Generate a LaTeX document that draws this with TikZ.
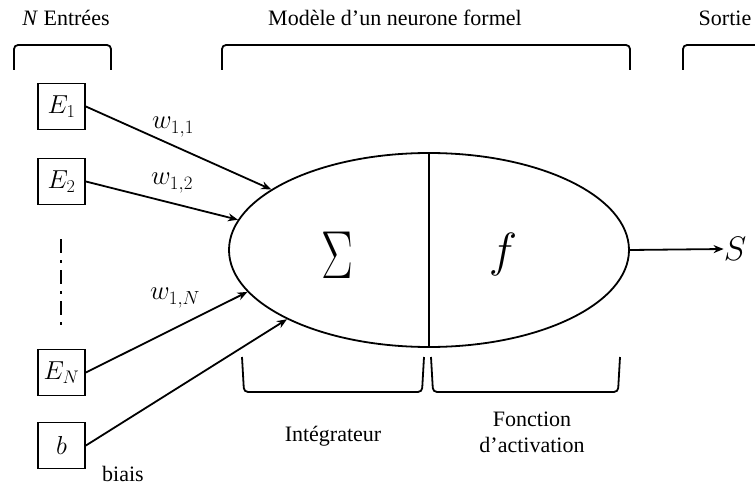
\documentclass[tikz,border=0pt]{standalone}
\usepackage{fix-cm}
\usepackage{fontspec}
\setmainfont{Liberation Serif}
\usetikzlibrary{arrows.meta,shapes.geometric}
\tikzset{
  inbox/.style={draw,line width=1.8pt,minimum width=47pt,minimum height=46pt,inner sep=0pt,font=\fontsize{26}{30}\selectfont},
  conn/.style={line width=1.8pt,-{Stealth[length=10pt,width=8pt]}},
  bracket/.style={line width=1.8pt,rounded corners=4pt},
  lbl/.style={font=\fontsize{22}{26}\selectfont,inner sep=0pt},
  mathlbl/.style={font=\fontsize{27}{30}\selectfont,inner sep=0pt}
}
\begin{document}
\begin{tikzpicture}[x=1pt,y=-1pt]
\clip (0,0) rectangle (755,487);
\fill[white] (0,0) rectangle (755,487);
% top titles
\node[lbl,anchor=base] (tin) at (66,26) {\textit{N} Entrées};
\node[lbl,anchor=base] (tmod) at (395,26) {Modèle d’un neurone formel};
\node[lbl,anchor=base] (tout) at (725,26) {Sortie};
% top brackets
\draw[bracket] (14,70) -- (14,45) -- (111,45) -- (111,70);
\draw[bracket] (222,70) -- (222,45) -- (630,45) -- (630,70);
\draw[bracket] (683,70) -- (683,45) -- (770,45) -- (770,70);
% inputs
\node[inbox] (e1) at (61.5,106.5) {$E_1$};
\node[inbox] (e2) at (61.5,181.5) {$E_2$};
\node[inbox] (en) at (61.5,372.5) {$E_N$};
\node[inbox] (b) at (61.5,445.5) {$b$};
\draw[line width=2.6pt,dash pattern=on 14pt off 7pt on 3pt off 7pt] (61,239) -- (61,327);
% neuron
\node[draw,ellipse,line width=1.8pt,minimum width=400pt,minimum height=194pt,inner sep=0pt] (neu) at (429,250) {};
\draw[line width=1.8pt] (neu.north) -- (neu.south);
\node[inner sep=0pt,font=\fontsize{68}{70}\selectfont] (sig) at (337,255) {\scalebox{0.7}[1]{$\Sigma$}};
\node[inner sep=0pt,font=\fontsize{48}{50}\selectfont] (fn) at (503,254) {$f$};
% connectors
\draw[conn] (e1.east) -- (neu.159.5);
\draw[conn] (e2.east) -- (neu.171.2);
\draw[conn] (en.east) -- (neu.193.1);
\draw[conn] (b.east) -- (neu.206.2);
\node[mathlbl] (w11) at (173,127) {$w_{1,1}$};
\node[mathlbl] (w12) at (172,183) {$w_{1,2}$};
\node[mathlbl] (w1n) at (175,298) {$w_{1,N}$};
\node[lbl,anchor=base] (biais) at (123,481) {biais};
% output
\node[inner sep=0pt,font=\fontsize{34}{36}\selectfont] (s) at (735,249) {$S$};
\draw[conn] (neu.east) -- (s.west);
% bottom brackets
\draw[bracket] (242,357) -- (244,392) -- (422,392) -- (424,357);
\draw[bracket] (431,357) -- (433,392) -- (618,392) -- (620,357);
\node[lbl,anchor=base] (integ) at (333,441) {Intégrateur};
\node[lbl,anchor=base] (act1) at (532,426) {Fonction};
\node[lbl,anchor=base] (act2) at (532,452) {d’activation};
\end{tikzpicture}
\end{document}
